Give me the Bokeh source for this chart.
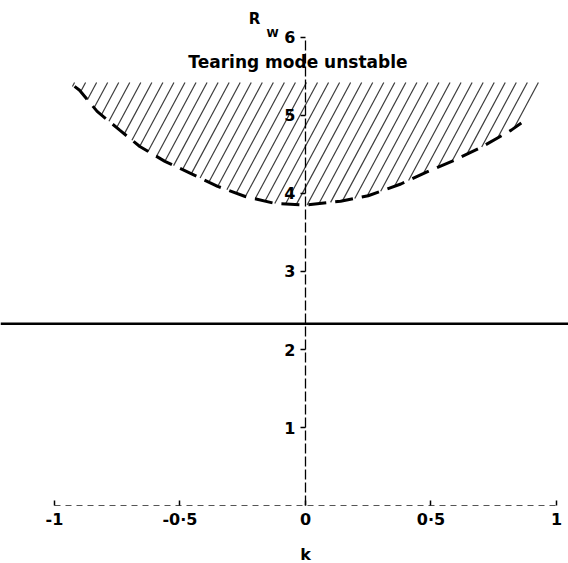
import numpy as np
from bokeh.plotting import figure
from bokeh.models import Range1d, LinearAxis, FixedTicker, Span
from bokeh.core.properties import value
from bokeh.embed import file_html
from bokeh.resources import INLINE

# Marginal-stability boundary R_W(k) for the tearing mode
k_curve = [-0.92, -0.90, -0.83, -0.74, -0.66, -0.56, -0.46, -0.35, -0.24, -0.12,
           0.0, 0.14, 0.25, 0.38, 0.48, 0.59, 0.70, 0.82, 0.86]
R_curve = [5.37, 5.32, 5.05, 4.81, 4.60, 4.41, 4.26, 4.09, 3.96, 3.87,
           3.85, 3.90, 3.97, 4.12, 4.27, 4.42, 4.59, 4.81, 4.90]

# Horizontal reference level
R_level = 2.33

# Upper edge of the shaded (unstable) region
R_top = 5.42

x_ticks = [-1, -0.5, 0, 0.5, 1]
x_tick_labels = ["-1", "-0·5", "0", "0·5", "1"]
y_ticks = [1, 2, 3, 4, 5, 6]

FONT = "DejaVu Sans"

p = figure(width=568, height=563, x_range=Range1d(-1.215, 1.048),
           y_range=Range1d(-0.74, 6.47), output_backend="svg",
           toolbar_location=None, x_axis_type=None, y_axis_type=None,
           min_border=0)
p.outline_line_color = None
p.background_fill_color = "white"

# Hatching of the unstable region: steep "/" strokes from the top edge down to the boundary
slope = 6.0
hx0, hy0, hx1, hy1 = [], [], [], []
for k0 in np.arange(-0.92, 0.95, 0.044):
    Rs = np.linspace(R_top, 3.5, 800)
    ks = k0 - (R_top - Rs) / slope
    Rb = np.interp(ks, k_curve, R_curve)
    hit = np.nonzero(Rs <= Rb)[0]
    if len(hit) == 0:
        continue
    i = hit[0]
    if i == 0:
        continue
    hx0.append(k0); hy0.append(R_top); hx1.append(ks[i]); hy1.append(Rs[i])
p.segment(x0=hx0, y0=hy0, x1=hx1, y1=hy1, line_color="#1a1a1a",
          line_width=1.2, line_alpha=0.85)

# Boundary curve
p.line(k_curve, R_curve, line_color="black", line_width=3, line_dash="18 9")

# Horizontal level
p.add_layout(Span(location=R_level, dimension="width", line_color="black",
                  line_width=2.5))

# Axes through the origin
xaxis = LinearAxis(fixed_location=0, ticker=FixedTicker(ticks=x_ticks),
                   major_label_overrides={t: l for t, l in zip(x_ticks, x_tick_labels)},
                   bounds=(-1, 1), axis_line_color="#555555", axis_line_dash="6 5",
                   axis_line_width=1, major_tick_in=5, major_tick_out=0,
                   minor_tick_line_color=None, major_tick_line_width=1.5,
                   major_label_standoff=4,
                   major_label_text_font=FONT, major_label_text_font_style="bold",
                   major_label_text_font_size="16px", major_label_text_color="black",
                   axis_label="k", axis_label_text_font=FONT,
                   axis_label_text_font_style="bold", axis_label_text_font_size="16px",
                   axis_label_text_color="black", axis_label_standoff=13)
p.add_layout(xaxis, "below")

yaxis = LinearAxis(fixed_location=0, ticker=FixedTicker(ticks=y_ticks),
                   bounds=(0, 6), axis_line_color="black", axis_line_dash="10 3",
                   axis_line_width=1.3, major_tick_in=0, major_tick_out=5,
                   minor_tick_line_color=None, major_tick_line_width=1.3,
                   major_label_standoff=5,
                   major_label_text_font=FONT, major_label_text_font_style="bold",
                   major_label_text_font_size="16px", major_label_text_color="black")
p.add_layout(yaxis, "left")

# Axis symbol R_W and region label
p.text(x=[-0.203], y=[6.23], text=["R"], text_font=value(FONT), text_font_style="bold",
       text_font_size="15px", text_align="center", text_baseline="middle")
p.text(x=[-0.131], y=[6.05], text=["W"], text_font=value(FONT), text_font_style="bold",
       text_font_size="11px", text_align="center", text_baseline="middle")
p.text(x=[-0.03], y=[5.68], text=["Tearing mode unstable"], text_font=value(FONT),
       text_font_style="bold", text_font_size="17px", text_align="center",
       text_baseline="middle")

open("out.html", "w").write(file_html(p, INLINE))
